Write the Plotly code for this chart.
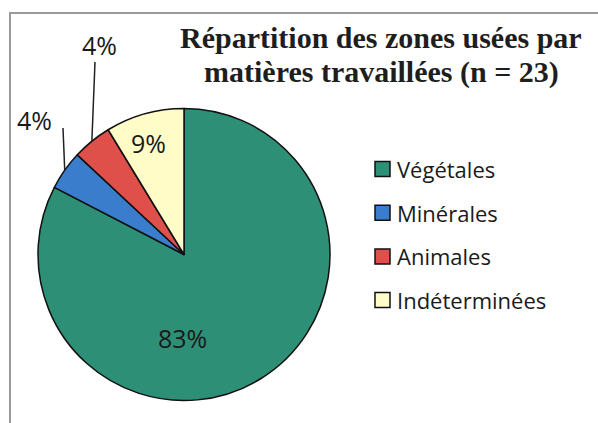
import math
import plotly.graph_objects as go

# Zones utilisées par matière travaillée (n = 23)
categories = ["Végétales", "Minérales", "Animales", "Indéterminées"]
counts = [19, 1, 1, 2]
colors = ["#2e8f77", "#3a7dcc", "#e0504b", "#fffcc7"]
title_lines = ["Répartition des zones usées par", "matières travaillées (n = 23)"]

W, H = 598, 423


def fx(x):
    return x / W


def fy(y):
    return 1 - y / H


# pie geometry in pixels
cx, cy, R = 184, 254.5, 146

fig = go.Figure(
    go.Pie(
        labels=categories,
        values=counts,
        marker=dict(colors=colors, line=dict(color="#111111", width=1.5)),
        sort=False,
        direction="clockwise",
        rotation=0,
        textinfo="none",
        hoverinfo="label+percent",
        showlegend=False,
        domain=dict(x=[fx(cx - R), fx(cx + R)], y=[fy(cy + R), fy(cy - R)]),
    )
)

total = sum(counts)
pct = [f"{round(100 * v / total)}%" for v in counts]

# mid-angle of each slice (clockwise from 12 o'clock) and its point on the rim
mid_angles = []
acc = 0
for v in counts:
    mid_angles.append(360 * (acc + v / 2) / total)
    acc += v
rim = [(cx + R * math.sin(math.radians(a)), cy - R * math.cos(math.radians(a))) for a in mid_angles]

label_pos = {
    "Végétales": (182, 338),
    "Minérales": (34, 120),
    "Animales": (99, 45),
    "Indéterminées": (148, 143),
}
leader_start = {"Minérales": (63, 128), "Animales": (95, 62)}

annotations = []
shapes = []

for i, cat in enumerate(categories):
    x, y = label_pos[cat]
    annotations.append(dict(
        x=fx(x), y=fy(y), xref="paper", yref="paper", text=pct[i], showarrow=False,
        xanchor="center", yanchor="middle",
        font=dict(family="Open Sans", size=25, color="#1a1a1a"),
    ))
    if cat in leader_start:
        sx, sy = leader_start[cat]
        ex, ey = rim[i]
        shapes.append(dict(
            type="line", xref="paper", yref="paper",
            x0=fx(sx), y0=fy(sy), x1=fx(ex), y1=fy(ey),
            line=dict(color="#222222", width=1.5),
        ))

# title
for k, line in enumerate(title_lines):
    annotations.append(dict(
        x=fx(381), y=fy(37 + 35 * k), xref="paper", yref="paper", text=f"<b>{line}</b>",
        showarrow=False, xanchor="center", yanchor="middle",
        font=dict(family="Liberation Serif", size=30, color="#1e1e1e"),
    ))

# legend: square swatch + label per category
leg_x0, leg_y0, leg_dy, sq = 375, 169, 43.7, 15
for i, cat in enumerate(categories):
    yc = leg_y0 + i * leg_dy
    shapes.append(dict(
        type="rect", xref="paper", yref="paper",
        x0=fx(leg_x0), x1=fx(leg_x0 + sq), y0=fy(yc + sq / 2), y1=fy(yc - sq / 2),
        fillcolor=colors[i], line=dict(color="#111111", width=1.5),
    ))
    annotations.append(dict(
        x=fx(leg_x0 + sq + 5), y=fy(yc), xref="paper", yref="paper", text=cat,
        showarrow=False, xanchor="left", yanchor="middle",
        font=dict(family="Open Sans", size=22, color="#1a1a1a"),
    ))

# chart frame (runs past the right and bottom edges)
shapes.append(dict(
    type="rect", xref="paper", yref="paper",
    x0=fx(10), x1=fx(650), y0=fy(460), y1=fy(13),
    line=dict(color="#9a9a9a", width=2), fillcolor="rgba(0,0,0,0)", layer="below",
))

fig.update_layout(
    width=W, height=H,
    margin=dict(l=0, r=0, t=0, b=0),
    paper_bgcolor="white", plot_bgcolor="white",
    annotations=annotations, shapes=shapes,
)

fig.write_html("out.html")
